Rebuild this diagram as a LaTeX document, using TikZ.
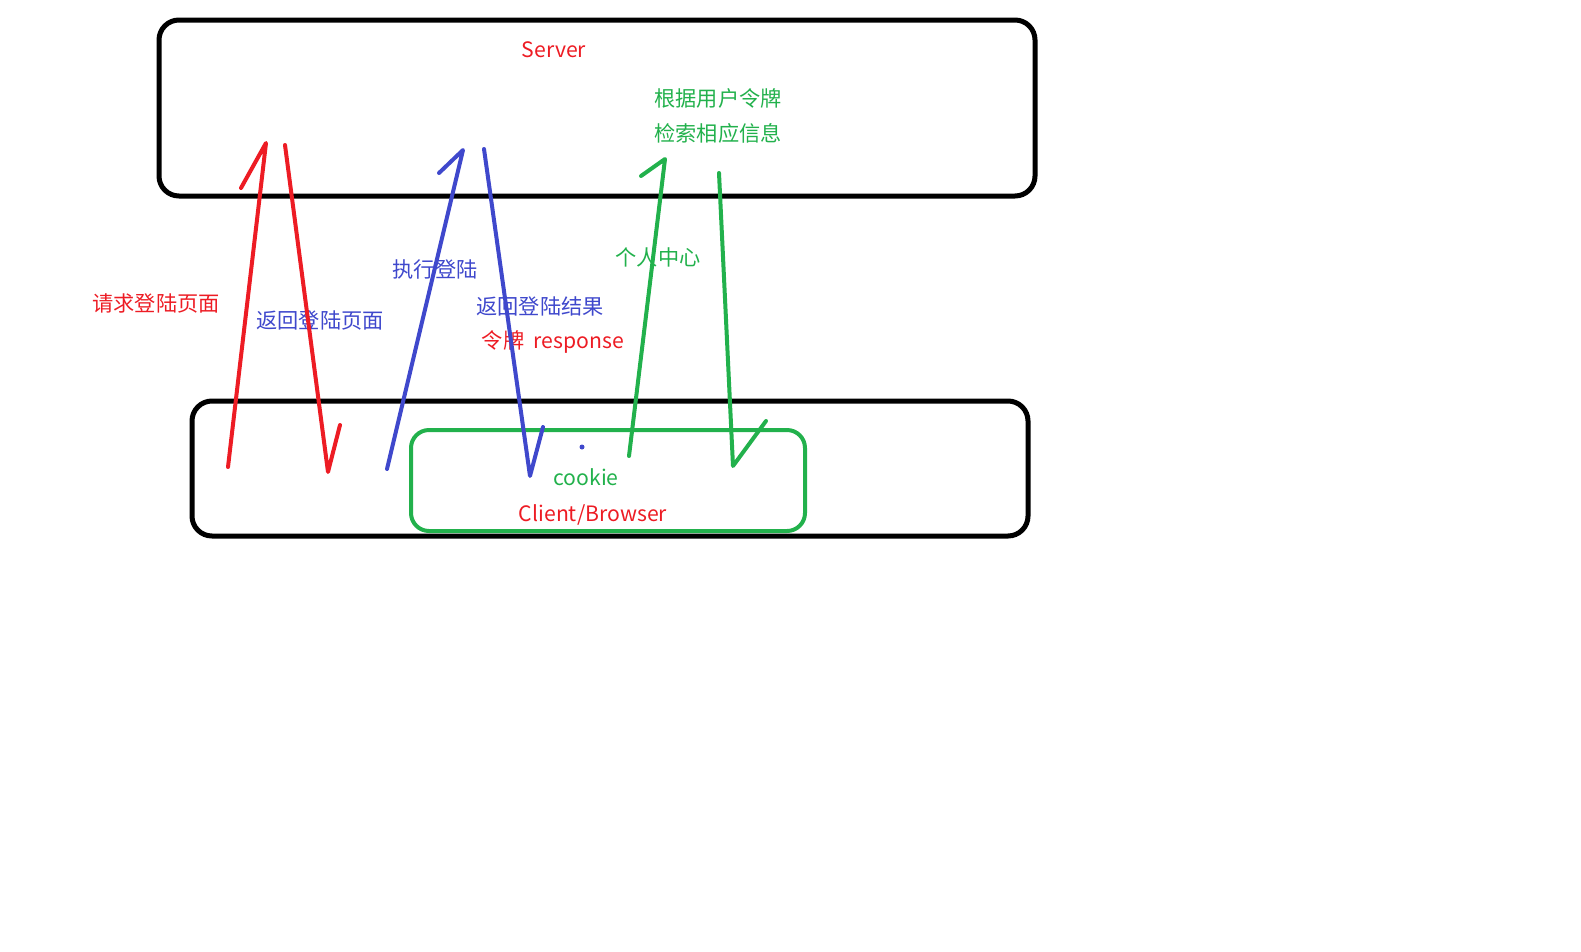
\documentclass[tikz,border=0pt]{standalone}
\usepackage{fontspec}
\setmainfont{Noto Sans CJK SC}
\usepackage{xcolor}
\definecolor{pred}{RGB}{237,28,36}
\definecolor{pblue}{RGB}{63,72,204}
\definecolor{pgreen}{RGB}{34,177,76}

\begin{document}
\begin{tikzpicture}[
    x=1pt, y=-1pt,
    font=\fontsize{21.2}{25}\selectfont,
    frame/.style={draw, line width=5pt, rounded corners=20pt, inner sep=0pt},
    pen/.style={line width=4pt, line cap=round, line join=round},
    lbl/.style={inner sep=0pt}
]
\useasboundingbox (0,0) rectangle (1581,951);

% boxes
\node[frame, minimum width=876pt, minimum height=176pt] (server) at (597,108) {};
\node[frame, minimum width=836pt, minimum height=135pt] (client) at (610,468.5) {};
\node[frame, draw=pgreen, line width=4pt, rounded corners=18pt, minimum width=394pt, minimum height=101pt] (browser) at (608,480.5) {};

% texts
\node[lbl, pred] (srvtxt) at (554,50) {Server};
\node[lbl, pgreen] (find1) at (718,98) {根据用户令牌};
\node[lbl, pgreen] (find2) at (718,133) {检索相应信息};
\node[lbl, pred] (req) at (156,303) {请求登陆页面};
\node[lbl, pblue] (back) at (320,320) {返回登陆页面};
\node[lbl, pblue] (login) at (435,269) {执行登陆};
\node[lbl, pblue] (result) at (540,306) {返回登陆结果};
\node[lbl, pred] (token) at (553,342) {令牌~~response};
\node[lbl, pgreen] (center) at (658,257) {个人中心};
\node[lbl, pgreen] (cookie) at (586,477) {cookie};
\node[lbl, pred] (cbtxt) at (593,515) {Client/Browser};
\fill[pblue] (582,447) circle (2.5pt);

% stroke points
\coordinate (r1) at (228,467);
\coordinate (r2) at (266,143);
\coordinate (r3) at (241,188);
\coordinate (r4) at (285,145);
\coordinate (r5) at (328,472);
\coordinate (r6) at (340,425);
\coordinate (b1) at (387,469);
\coordinate (b2) at (463,150);
\coordinate (b3) at (439,173);
\coordinate (b4) at (484,149);
\coordinate (b5) at (530,476);
\coordinate (b6) at (543,427);
\coordinate (g1) at (629,456);
\coordinate (g2) at (665,159);
\coordinate (g3) at (641,176);
\coordinate (g4) at (719,173);
\coordinate (g5) at (733,466);
\coordinate (g6) at (766,421);

\draw[pen, pred] (r1) -- (r2) -- (r3);
\draw[pen, pred] (r4) -- (r5) -- (r6);
\draw[pen, pblue] (b1) -- (b2) -- (b3);
\draw[pen, pblue] (b4) -- (b5) -- (b6);
\draw[pen, pgreen] (g1) -- (g2) -- (g3);
\draw[pen, pgreen] (g4) -- (g5) -- (g6);
\end{tikzpicture}
\end{document}
